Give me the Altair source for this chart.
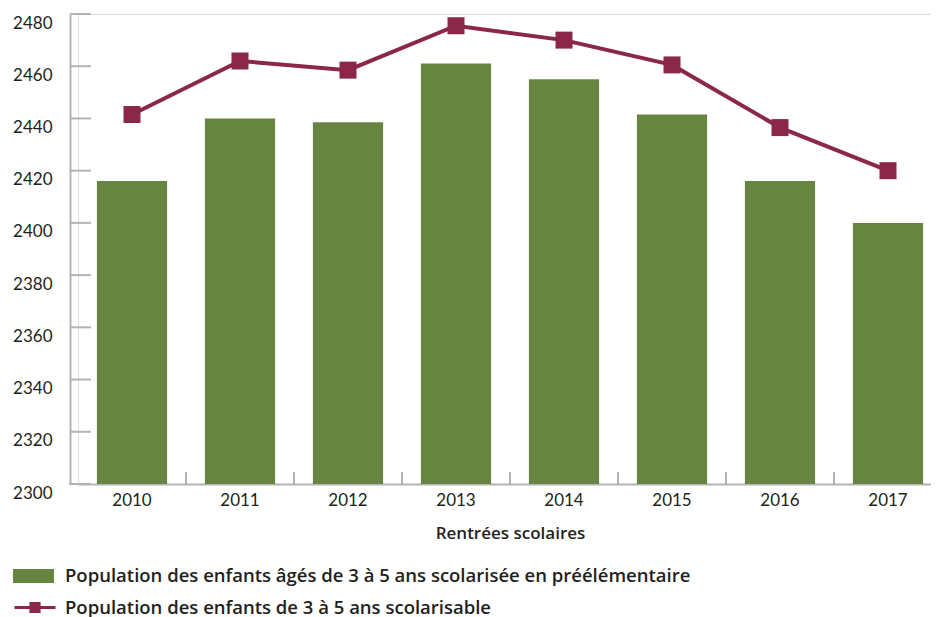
import altair as alt
import pandas as pd

years = ["2010", "2011", "2012", "2013", "2014", "2015", "2016", "2017"]
scolarisee = [2416, 2440, 2438.5, 2461, 2455, 2441.5, 2416, 2400]
scolarisable = [2441.5, 2462, 2458.5, 2475.5, 2470, 2460.5, 2436.5, 2420]
y_ticks = [2300, 2320, 2340, 2360, 2380, 2400, 2420, 2440, 2460, 2480]
label_bar = "Population des enfants âgés de 3 à 5 ans scolarisée en préélémentaire"
label_line = "Population des enfants de 3 à 5 ans scolarisable"

GREEN = "#678440"
MAROON = "#8b2749"
AXIS = "#b3b3b3"
TEXT = "#231f20"
FONT = "Lato"
FONT2 = "Open Sans"

df = pd.DataFrame({
    "year": years,
    "bar": scolarisee,
    "line": scolarisable,
    "sbar": [label_bar] * len(years),
    "sline": [label_line] * len(years),
})
ticks_df = pd.DataFrame({"v": y_ticks})

xscale = alt.Scale(domain=years, range=[0, 864], paddingInner=0.35, paddingOuter=0.175)
yscale = alt.Scale(domain=[2300, 2480], zero=False, nice=False)

x_enc = alt.X("year:N", scale=xscale, sort=years,
              axis=alt.Axis(title="Rentrées scolaires", labelAngle=0, ticks=False,
                            domainColor=AXIS, domainWidth=2, labelPadding=8,
                            labelFontSize=17, labelColor=TEXT, labelFont=FONT,
                            titleFont=FONT2, titleFontSize=17, titleFontWeight=600,
                            titleColor=TEXT, titlePadding=17))

bars = alt.Chart(df).mark_bar(clip=True).encode(
    x=x_enc,
    y=alt.Y("bar:Q", scale=yscale,
            axis=alt.Axis(title=None, values=y_ticks, format="d", ticks=False, grid=False,
                          offset=8, domainColor=AXIS, domainWidth=2, labelPadding=18,
                          labelFontSize=17, labelColor=TEXT, labelFont=FONT,
                          labelOffset=9)),
    fill=alt.Fill("sbar:N", scale=alt.Scale(domain=[label_bar], range=[GREEN]),
                  legend=alt.Legend(title=None, orient="none", legendX=-65, legendY=541.5,
                                    symbolType="M-1,-0.341H1V0.341H-1Z", symbolSize=1681,
                                    symbolStrokeWidth=0, labelFontSize=18.5,
                                    labelFontWeight=600, labelColor=TEXT,
                                    labelFont=FONT2, labelOffset=11, labelLimit=0,
                                    padding=0)),
)

line = alt.Chart(df).mark_line(strokeWidth=4).encode(
    x=alt.X("year:N", scale=xscale, sort=years),
    y=alt.Y("line:Q", scale=yscale),
    stroke=alt.Stroke("sline:N", scale=alt.Scale(domain=[label_line], range=[MAROON]),
                      legend=alt.Legend(title=None, orient="none", legendX=-65, legendY=571.5,
                                        symbolType="M-1,0H1M-0.2,-0.2H0.2V0.2H-0.2Z",
                                        symbolSize=1681, symbolStrokeWidth=3,
                                        symbolFillColor=MAROON, labelFontSize=18.5,
                                        labelFontWeight=600, labelColor=TEXT,
                                        labelFont=FONT2, labelOffset=8, labelLimit=0,
                                        padding=0)),
)

points = alt.Chart(df).mark_square(size=289, opacity=1, color=MAROON).encode(
    x=alt.X("year:N", scale=xscale, sort=years),
    y=alt.Y("line:Q", scale=yscale),
)

ytick_rules = alt.Chart(ticks_df).mark_rule(color=AXIS, strokeWidth=2).encode(
    y=alt.Y("v:Q", scale=yscale),
    x=alt.value(-8),
    x2=alt.value(13),
)

xtick_rules = alt.Chart(df.iloc[1:]).mark_rule(color=AXIS, strokeWidth=2, xOffset=-18.9).encode(
    x=alt.X("year:N", scale=xscale, sort=years, bandPosition=0),
    y=alt.value(470),
    y2=alt.value(458),
)

corner = alt.Chart(df.iloc[:1]).mark_rule(color=AXIS, strokeWidth=2).encode(
    x=alt.value(-9),
    x2=alt.value(1),
    y=alt.value(470),
)

chart = alt.layer(bars, ytick_rules, xtick_rules, corner, line, points).resolve_scale(
    fill="independent", stroke="independent"
).properties(
    width=853,
    height=470,
    autosize=alt.AutoSizeParams(type="none"),
    padding={"left": 70, "top": 6, "right": 0, "bottom": 133},
).configure_view(stroke=None).configure(font=FONT)

chart.save("out.html", embed_options={"renderer": "svg", "actions": False})
